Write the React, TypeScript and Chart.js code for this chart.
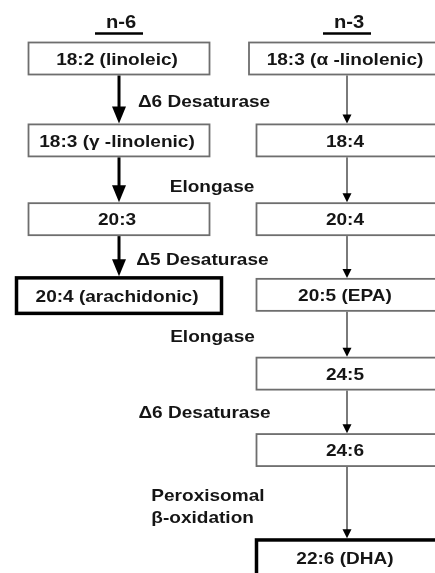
import React, { useEffect, useRef } from "react";
import { Chart, registerables } from "chart.js";

Chart.register(...registerables);

// ---- data ----
const columns = ["n-6", "n-3"];
const columnX = [0, 1];
const headerRow = -0.48;

const n6Boxes = ["18:2 (linoleic)", "18:3 (γ -linolenic)", "20:3", "20:4 (arachidonic)"];
const n6Rows = [0, 1.05, 2.06, 3.04];

const n3Boxes = ["18:3 (α -linolenic)", "18:4", "20:4", "20:5 (EPA)", "24:5", "24:6", "22:6 (DHA)"];
const n3Rows = [0, 1.05, 2.06, 3.03, 4.04, 5.02, 6.4];

const enzymeLabels = [
  "Δ6 Desaturase",
  "Elongase",
  "Δ5 Desaturase",
  "Elongase",
  "Δ6 Desaturase",
  "Peroxisomal\nβ-oxidation",
];
const enzymeX = [0.373, 0.408, 0.366, 0.41, 0.375, 0.39];
const enzymeRows = [0.54, 1.63, 2.57, 3.56, 4.53, 5.74];

const endProducts = ["20:4 (arachidonic)", "22:6 (DHA)"];

// ---- drawing plugin (styles only) ----
const FONT = '"Liberation Sans", Arial, sans-serif';
const STRETCH = 1.12;
const TEXT = "#151515";

function textWidth(ctx: CanvasRenderingContext2D, text: string, size: number) {
  ctx.save();
  ctx.font = `bold ${size}px ${FONT}`;
  const w = ctx.measureText(text).width * STRETCH;
  ctx.restore();
  return w;
}

function drawText(
  ctx: CanvasRenderingContext2D,
  text: string,
  x: number,
  y: number,
  size: number,
  align: CanvasTextAlign = "center"
) {
  ctx.save();
  ctx.font = `bold ${size}px ${FONT}`;
  ctx.fillStyle = TEXT;
  ctx.textAlign = align;
  ctx.textBaseline = "alphabetic";
  ctx.translate(x, y + size * 0.36);
  ctx.scale(STRETCH, 1);
  ctx.fillText(text, 0, 0);
  ctx.restore();
}

const widthOverrides: Record<string, number> = {
  "18:3 (α -linolenic)": 196,
  "20:4 (arachidonic)": 205,
};

function boxGeom(label: string) {
  const thick = endProducts.includes(label);
  const w = widthOverrides[label] ?? 181;
  const h = thick ? 35.5 : 32;
  const lw = thick ? 3.5 : 1.8;
  return { thick, w, h, lw };
}

function drawArrow(ctx: CanvasRenderingContext2D, x: number, y1: number, y2: number, heavy: boolean) {
  ctx.save();
  const headLen = heavy ? 17 : 9;
  const headW = heavy ? 14 : 9;
  ctx.strokeStyle = heavy ? "#000" : "#7a7a7a";
  ctx.lineWidth = heavy ? 3 : 2;
  ctx.beginPath();
  ctx.moveTo(x, y1);
  ctx.lineTo(x, y2 - headLen + 1);
  ctx.stroke();
  ctx.fillStyle = "#000";
  ctx.beginPath();
  ctx.moveTo(x - headW / 2, y2 - headLen);
  ctx.lineTo(x + headW / 2, y2 - headLen);
  ctx.lineTo(x, y2);
  ctx.closePath();
  ctx.fill();
  ctx.restore();
}

const flowPlugin = {
  id: "flow",
  afterDatasetsDraw(chart: any) {
    const ctx: CanvasRenderingContext2D = chart.ctx;
    const drawColumn = (dsIndex: number, labels: string[], heavy: boolean) => {
      const pts = chart.getDatasetMeta(dsIndex).data;
      for (let i = 0; i < labels.length - 1; i++) {
        const a = boxGeom(labels[i]);
        const b = boxGeom(labels[i + 1]);
        const yTop = pts[i].y + a.h / 2 + a.lw / 2;
        const yBot = pts[i + 1].y - b.h / 2 - b.lw / 2;
        drawArrow(ctx, pts[i].x, yTop, yBot, heavy);
      }
      labels.forEach((label, i) => {
        const g = boxGeom(label);
        const p = pts[i];
        ctx.save();
        ctx.fillStyle = "#fff";
        ctx.fillRect(p.x - g.w / 2, p.y - g.h / 2, g.w, g.h);
        ctx.strokeStyle = g.thick ? "#000" : "#6e6e6e";
        ctx.lineWidth = g.lw;
        ctx.strokeRect(p.x - g.w / 2, p.y - g.h / 2, g.w, g.h);
        ctx.restore();
        drawText(ctx, label, p.x - 2, p.y, 17);
      });
    };
    drawColumn(0, n6Boxes, true);
    drawColumn(1, n3Boxes, false);

    // enzyme labels
    const ePts = chart.getDatasetMeta(2).data;
    enzymeLabels.forEach((label, i) => {
      const lines = label.split("\n");
      const lh = 22;
      if (lines.length === 1) {
        drawText(ctx, label, ePts[i].x, ePts[i].y, 17);
      } else {
        const maxW = Math.max(...lines.map((l) => textWidth(ctx, l, 17)));
        const left = ePts[i].x - maxW / 2;
        lines.forEach((ln, k) => {
          drawText(ctx, ln, left, ePts[i].y + (k - (lines.length - 1) / 2) * lh, 17, "left");
        });
      }
    });

    // headers
    const hPts = chart.getDatasetMeta(3).data;
    columns.forEach((c, i) => {
      const p = hPts[i];
      drawText(ctx, c, p.x + 2, p.y, 18);
      ctx.save();
      ctx.strokeStyle = "#000";
      ctx.lineWidth = 2.5;
      ctx.beginPath();
      ctx.moveTo(p.x - 24, p.y + 12.5);
      ctx.lineTo(p.x + 24, p.y + 12.5);
      ctx.stroke();
      ctx.restore();
    });
  },
};

export default function App() {
  const ref = useRef<HTMLCanvasElement | null>(null);
  useEffect(() => {
    if (!ref.current) return;
    const chart = new Chart(ref.current, {
      type: "scatter",
      data: {
        datasets: [
          { data: n6Rows.map((r) => ({ x: columnX[0], y: r })), pointRadius: 0 },
          { data: n3Rows.map((r) => ({ x: columnX[1], y: r })), pointRadius: 0 },
          { data: enzymeRows.map((r, i) => ({ x: enzymeX[i], y: r })), pointRadius: 0 },
          { data: columnX.map((x) => ({ x, y: headerRow })), pointRadius: 0 },
        ],
      },
      options: {
        animation: false,
        responsive: false,
        devicePixelRatio: 1,
        layout: { padding: 0 },
        events: [],
        scales: {
          x: { type: "linear", min: -0.522, max: 1.386, display: false },
          y: { type: "linear", min: -0.75, max: 6.596, reverse: true, display: false },
        },
        plugins: { legend: { display: false }, tooltip: { enabled: false } },
      },
      plugins: [flowPlugin],
    });
    return () => chart.destroy();
  }, []);
  return (
    <div style={{ position: "fixed", left: 0, top: 0, width: 435, height: 573, background: "#fff" }}>
      <canvas ref={ref} width={435} height={573} style={{ display: "block" }} />
    </div>
  );
}
